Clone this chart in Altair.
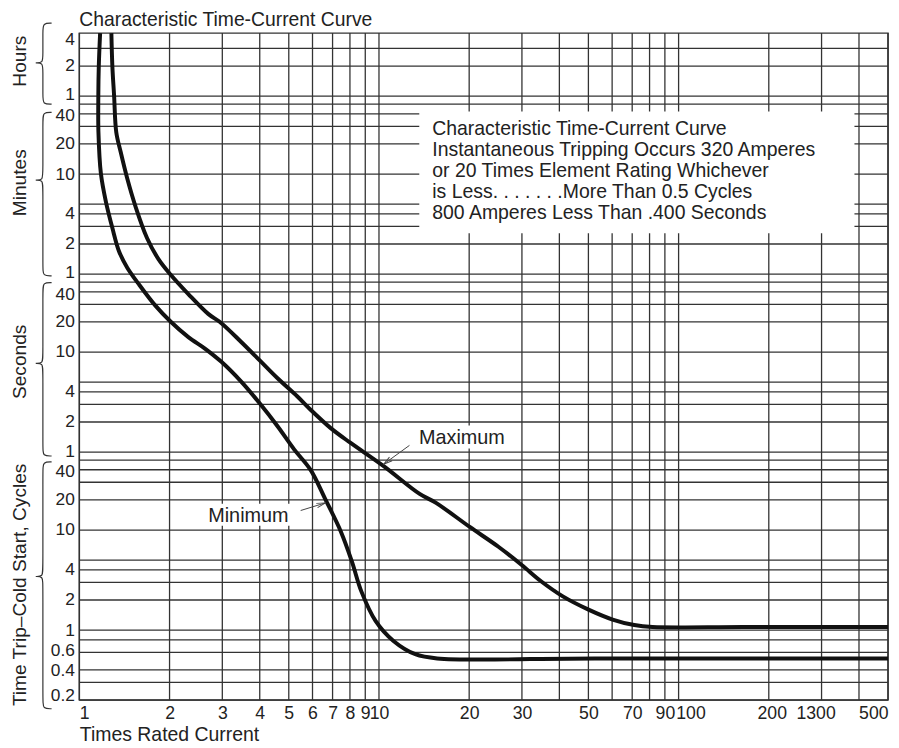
import altair as alt
import pandas as pd

SEC_PER_CYCLE = 1 / 60.0   # 60 Hz cycles

# ---------------- grid lines and tick labels ----------------
x_grid = [1, 2, 3, 4, 5, 6, 7, 8, 9, 10, 20, 30, 40, 50, 60, 70, 80, 90,
          100, 200, 300, 400, 500]
x_ticks = [1, 2, 3, 4, 5, 6, 7, 8, 9, 10, 20, 30, 50, 70, 90, 100, 200, 300, 500]

cycle_grid = [0.2, 0.3, 0.4, 0.6, 0.8, 1, 2, 3, 4, 5, 10, 20, 30, 40, 50]
second_grid = [1, 2, 3, 4, 5, 10, 20, 30, 40, 50]
minute_grid = [1, 2, 3, 4, 5, 10, 20, 30, 40, 50]
hour_grid = [1, 2, 3]

cycle_ticks = [0.2, 0.4, 0.6, 1, 2, 4, 10, 20, 40]
second_ticks = [1, 2, 4, 10, 20, 40]
minute_ticks = [1, 2, 4, 10, 20, 40]
hour_ticks = [1, 2, 4]


def to_seconds(cycles, seconds, minutes, hours):
    return ([c * SEC_PER_CYCLE for c in cycles] + list(seconds)
            + [m * 60 for m in minutes] + [h * 3600 for h in hours])


y_grid = to_seconds(cycle_grid, second_grid, minute_grid, hour_grid)
y_ticks = to_seconds(cycle_ticks, second_ticks, minute_ticks, hour_ticks)

x_domain = [1, 500]
y_domain = [0.2 * SEC_PER_CYCLE, 15350]

# ---------------- curves (times rated current, seconds) ----------------
max_x = [1.279, 1.289, 1.306, 1.328, 1.374, 1.445, 1.540, 1.682, 1.839, 2.011,
         2.311, 2.692, 2.979, 3.469, 3.991, 4.587, 5.343, 5.912, 6.885, 8.019,
         10.34, 13.67, 15.50, 20.09, 25.04, 29.95, 34.83, 41.08, 50.04, 60.21,
         71.14, 81.85, 164.6, 500]
max_t = [15350, 7072, 3651, 1571, 995, 541.6, 284, 137.9, 84.3, 59.9,
         37.95, 24.05, 19.42, 12.59, 8.295, 5.466, 3.593, 2.653, 1.748, 1.242,
         0.7285, 0.3821, 0.3112, 0.1788, 0.1134, 0.07452, 0.05103, 0.03625, 0.02671, 0.02127,
         0.01872, 0.01789, 0.01789, 0.01789]

min_x = [1.173, 1.161, 1.157, 1.158, 1.180, 1.226, 1.289, 1.356, 1.445, 1.579,
         1.794, 2.011, 2.311, 2.625, 2.979, 3.469, 3.991, 4.587, 5.209, 5.912,
         6.612, 7.469, 8.123, 8.733, 9.752, 11.18, 13.22, 15.64, 52.5, 500]
min_t = [15350, 7072, 3651, 1571, 607, 318.4, 173.2, 101.8, 69.6, 47.68,
         29.07, 20.32, 14.11, 10.83, 7.98, 5.058, 3.091, 1.813, 1.066, 0.6649,
         0.3409, 0.1596, 0.08054, 0.04063, 0.0205, 0.013, 0.009577, 0.008686, 0.008686, 0.008686]

# ---------------- y-axis unit groups (braces) ----------------
section_names = ["Hours", "Minutes", "Seconds", "Time Trip\u2013Cold Start, Cycles"]
brace_top = [19280, 2477, 49.4, 0.798]
brace_tip = [7745, 522, 7.69, 0.0572]
brace_bottom = [2994, 57.6, 0.915, 0.00273]
section_label_at = [8054, 491, 7.98, 0.0472]

# ---------------- annotations ----------------
chart_title = "Characteristic Time-Current Curve"
box_x = [13.63, 386.3]
box_t = [2535, 153.5]
box_text_x = [15.06]
box_text_t = [1490]
box_lines = [
    "Characteristic Time-Current Curve",
    "Instantaneous Tripping Occurs 320 Amperes",
    "or 20 Times Element Rating Whichever",
    "is Less. . . . . . .More Than 0.5 Cycles",
    "800 Amperes Less Than .400 Seconds",
]

ann_labels = ["Maximum", "Minimum"]
ann_text_x = [13.6, 2.692]
ann_text_t = [1.21, 0.2004]
ann_bg_x1 = [13.33, 2.631]
ann_bg_x2 = [27.28, 5.182]
ann_bg_t1 = [1.842, 0.3042]
ann_bg_t2 = [1.090, 0.1842]
ann_tail_x = [12.64, 5.479]
ann_tail_t = [1.168, 0.2611]
ann_head_x = [10.36, 6.628]
ann_head_t = [0.7573, 0.3112]
arrow_angle = [233.8, 72.9]

FONT = "Liberation Sans"
INK = "#222222"
GRID = "#333333"

# ---------------- scales / axes ----------------
xs = alt.Scale(type="log", domain=x_domain, nice=False)
ys = alt.Scale(type="log", domain=y_domain, nice=False)

xaxis = alt.Axis(
    values=x_ticks, grid=False, domain=False, ticks=False, tickSize=0,
    labelExpr="datum.value == 300 ? '1300' : format(datum.value, 'd')",
    labelFlush=True, labelOverlap=False, labelPadding=5, labelFontSize=17.8,
    labelColor=INK, labelFont=FONT,
    labelOffset={"condition": [{"test": "datum.value == 300", "value": -6},
                               {"test": "datum.value == 100", "value": 12},
                               {"test": "datum.value == 200", "value": 3}],
                 "value": 0},
    title="Times Rated Current", titleX=0, titleY=40.5, titleAlign="left",
    titleAnchor="start", titleBaseline="alphabetic", titleFontSize=19.6,
    titleFontWeight="normal", titleFont=FONT, titleColor=INK,
)
yaxis = alt.Axis(
    values=y_ticks, grid=False, domain=False, ticks=False, tickSize=0,
    labelExpr=("datum.value < 0.9 ? format(datum.value * 60, '~g') : "
               "datum.value < 50 ? format(datum.value, '~g') : "
               "datum.value < 3000 ? format(datum.value / 60, '~g') : "
               "format(datum.value / 3600, '~g')"),
    labelOverlap=False, labelPadding=5, labelFontSize=17.5, labelColor=INK,
    labelFont=FONT, labelBaseline="middle",
    labelOffset={"condition": [
        {"test": "datum.value > 10000", "value": 4},
        {"test": "datum.value < 0.004", "value": -5},
        {"test": "datum.value == 3600", "value": -2},
        {"test": "datum.value == 2400", "value": 1.5},
        {"test": "datum.value == 60", "value": -2},
        {"test": "datum.value == 40", "value": 2.5},
        {"test": "datum.value == 1", "value": -1},
        {"test": "abs(datum.value - 0.6667) < 0.001", "value": 2},
        {"test": "abs(datum.value - 0.01) < 0.0001", "value": -1.5},
        {"test": "abs(datum.value - 0.006667) < 0.0001", "value": 0.8},
    ], "value": 0},
    title=None,
)


def X(field):
    return alt.X(field, type="quantitative", scale=xs, axis=xaxis)


def Y(field):
    return alt.Y(field, type="quantitative", scale=ys, axis=yaxis)


# ---------------- layers ----------------
vgrid = alt.Chart(pd.DataFrame({"x": x_grid})).mark_rule(
    color=GRID, strokeWidth=1.3).encode(x=X("x"))
hgrid = alt.Chart(pd.DataFrame({"t": y_grid})).mark_rule(
    color=GRID, strokeWidth=1.3).encode(y=Y("t"))

box = alt.Chart(pd.DataFrame({"x1": [box_x[0]], "x2": [box_x[1]],
                              "t1": [box_t[0]], "t2": [box_t[1]]})).mark_rect(
    fill="white", opacity=1).encode(x=X("x1"), x2="x2", y=Y("t1"), y2="t2")

box_text = alt.Chart(pd.DataFrame({"x": box_text_x, "t": box_text_t})).mark_text(
    align="left", baseline="alphabetic", font=FONT, fontSize=19.6,
    lineHeight=21.3, color=INK).encode(x=X("x"), y=Y("t"), text=alt.value(box_lines))

rows = []
for name, xv, tv in (("Maximum", max_x, max_t), ("Minimum", min_x, min_t)):
    for i, (a, b) in enumerate(zip(xv, tv)):
        rows.append({"curve": name, "i": i, "x": a, "t": b})
curves = alt.Chart(pd.DataFrame(rows)).mark_line(
    color="#111111", strokeWidth=4, interpolate="catmull-rom", clip=True).encode(
    x=X("x"), y=Y("t"), detail="curve:N", order="i:Q")

ann_df = pd.DataFrame({
    "label": ann_labels, "tx": ann_text_x, "tt": ann_text_t,
    "bx1": ann_bg_x1, "bx2": ann_bg_x2, "bt1": ann_bg_t1, "bt2": ann_bg_t2,
    "x1": ann_tail_x, "t1": ann_tail_t, "x2": ann_head_x, "t2": ann_head_t,
    "angle": arrow_angle,
})
ann_bg = alt.Chart(ann_df).mark_rect(fill="white", opacity=1).encode(
    x=X("bx1"), x2="bx2", y=Y("bt1"), y2="bt2")
arrows = alt.Chart(ann_df).mark_rule(color="#444444", strokeWidth=1).encode(
    x=X("x1"), y=Y("t1"), x2="x2", y2="t2")
heads = alt.Chart(ann_df).mark_point(
    shape="M -0.55 2.2 L 0 0 L 0.55 2.2", filled=False, size=67,
    color="#444444", strokeWidth=1, opacity=1).encode(
    x=X("x2"), y=Y("t2"), angle=alt.Angle("angle:Q", scale=None))
ann_text = alt.Chart(ann_df).mark_text(
    align="left", baseline="alphabetic", font=FONT, fontSize=20, color=INK).encode(
    x=X("tx"), y=Y("tt"), text="label:N")

group_labels = alt.Chart(pd.DataFrame({"name": section_names, "t": section_label_at})).mark_text(
    angle=270, align="center", baseline="alphabetic", font=FONT, fontSize=19.3,
    color=INK).encode(x=alt.value(-54), y=Y("t"), text="name:N")

title_text = alt.Chart(pd.DataFrame({"title": [chart_title]})).mark_text(
    align="left", baseline="alphabetic", font=FONT, fontSize=19.5, color=INK).encode(
    x=alt.value(0), y=alt.value(-7), text="title:N")

main = alt.layer(vgrid, hgrid, box, box_text, curves, ann_bg, arrows, heads, ann_text,
                 group_labels, title_text)

# brace outlines (B-spline control polygon per unit group)
brace_rows = []
R = 10 ** 0.075
for name, top, tip, bot in zip(section_names, brace_top, brace_tip, brace_bottom):
    shape = [(1.0, top), (0.45, top), (0.45, top / R), (0.45, tip * R), (0.45, tip),
             (0.0, tip), (0.0, tip), (0.0, tip), (0.45, tip), (0.45, tip / R),
             (0.45, bot * R), (0.45, bot), (1.0, bot)]
    for i, (bx, bt) in enumerate(shape):
        brace_rows.append({"section": name, "i": i, "bx": bx, "t": bt})
braces = alt.Chart(pd.DataFrame(brace_rows)).mark_line(
    color="#333333", strokeWidth=1.2, interpolate="basis").encode(
    x=alt.X("bx:Q", scale=alt.Scale(domain=[0, 1], range=[-44, -28]), axis=None),
    y=Y("t"), detail="section:N", order="i:Q")

chart = alt.layer(main, braces).resolve_scale(x="independent").properties(
    width=816, height=673,
    autosize=alt.AutoSizeParams(type="none"),
    padding={"left": 72, "top": 22, "right": 3, "bottom": 45},
).configure_view(stroke=GRID, strokeWidth=1.5).configure_text(font=FONT)

chart.save("out.html", embed_options={"renderer": "svg", "actions": False})
